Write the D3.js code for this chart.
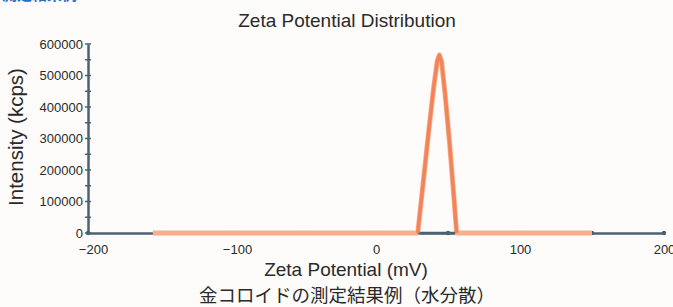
<!doctype html>
<html lang="ja">
<head>
<meta charset="UTF-8">
<title>Zeta Potential Distribution</title>
<style>
  body { margin: 0; background: #fdfcfb; }
  svg { display: block; font-family: "Liberation Sans", Arial, sans-serif; }
</style>
</head>
<body>
<div class="container"></div>
<script src="https://d3js.org/d3.v7.min.js"></script>
<script>
  // data
  const zetaMv = [-155, 29, 33, 37, 40, 42.5, 44, 45.5, 48, 51, 54, 56, 150];
  const intensity = [0, 0, 170000, 340000, 460000, 545000, 565000, 545000, 440000, 290000, 120000, 0, 0];
  const xTicks = [-200, -100, 0, 100, 200];
  const xMinorTicks = [-200, -150, -100, -50, 0, 50, 100, 150, 200];
  const yTicks = [0, 100000, 200000, 300000, 400000, 500000, 600000];
  const yMinorTicks = d3.range(0, 600001, 50000);

  const W = 673, H = 307;
  const M = { left: 88, right: 9, top: 44, bottom: 74 };
  const GW = W - M.left - M.right;
  const GH = H - M.top - M.bottom;

  const svg = d3.select('.container').append('svg')
    .attr('width', W).attr('height', H);

  svg.append('rect').attr('width', W).attr('height', H).attr('fill', '#fdfcfb');

  // heading cut off by the top edge
  svg.append('text').attr('x', 2).attr('y', 0)
    .attr('fill', '#2a6fc4').attr('font-size', 15).attr('font-weight', 'bold')
    .attr('font-family', '"Noto Sans CJK JP", sans-serif')
    .text('測定結果例');

  const g = svg.append('g').attr('transform', `translate(${M.left},${M.top})`);

  const x = d3.scaleLinear().domain([-200, 200]).range([0, GW]);
  const y = d3.scaleLinear().domain([0, 600000]).range([GH, 0]);

  const axisColor = '#4d6270';
  const textColor = '#2a2a2a';

  // x axis
  const xAxis = g.append('g').attr('transform', `translate(0,${GH})`)
    .call(d3.axisBottom(x).tickValues(xTicks).tickSize(0).tickPadding(12)
      .tickFormat(d => String(d).replace('-', '\u2212')));
  xAxis.select('.domain').attr('stroke', axisColor).attr('stroke-width', 2.5);
  xAxis.selectAll('text').attr('font-size', 13).attr('fill', textColor)
    .attr('font-family', '"Liberation Sans", Arial, sans-serif')
    .attr('dx', d => d < 0 ? 5 : 0);

  // y axis
  const yAxis = g.append('g')
    .call(d3.axisLeft(y).tickValues(yTicks).tickSize(0).tickPadding(5).tickFormat(d3.format('d')));
  yAxis.select('.domain').attr('stroke', axisColor).attr('stroke-width', 2.5);
  yAxis.selectAll('text').attr('font-size', 13).attr('fill', textColor)
    .attr('font-family', '"Liberation Sans", Arial, sans-serif');

  // small tick marks
  g.selectAll('.ytick').data(yMinorTicks).enter().append('line')
    .attr('x1', -3).attr('x2', 3)
    .attr('y1', d => y(d)).attr('y2', d => y(d))
    .attr('stroke', axisColor).attr('stroke-width', 1.5);
  g.selectAll('.xtick').data(xMinorTicks).enter().append('circle')
    .attr('cx', d => x(d)).attr('cy', GH).attr('r', 2.2)
    .attr('fill', axisColor);

  // distribution curve: light wide baseline, darker narrower peak
  const line = d3.line().x(d => x(d[0])).y(d => y(d[1]));
  const pts = zetaMv.map((v, i) => [v, intensity[i]]);
  g.append('path').datum(pts)
    .attr('d', line)
    .attr('fill', 'none')
    .attr('stroke', '#f9ad8a')
    .attr('stroke-width', 5)
    .attr('stroke-linejoin', 'round');

  // axis stays visible under the peak
  g.append('line')
    .attr('x1', x(29)).attr('x2', x(55))
    .attr('y1', GH).attr('y2', GH)
    .attr('stroke', axisColor).attr('stroke-width', 2.5);

  const peak = pts.filter(d => d[0] >= 29 && d[0] <= 56);
  g.append('path').datum(peak)
    .attr('d', line)
    .attr('fill', 'none')
    .attr('stroke', '#f3845a')
    .attr('stroke-width', 3.5)
    .attr('stroke-linejoin', 'round');

  // titles
  svg.append('text').attr('x', 347).attr('y', 27)
    .attr('text-anchor', 'middle').attr('font-size', 19).attr('fill', textColor)
    .text('Zeta Potential Distribution');

  svg.append('text').attr('x', 346).attr('y', 276)
    .attr('text-anchor', 'middle').attr('font-size', 19).attr('fill', textColor)
    .text('Zeta Potential (mV)');

  svg.append('text')
    .attr('transform', `translate(23,137) rotate(-90)`)
    .attr('text-anchor', 'middle').attr('font-size', 20.5).attr('fill', textColor)
    .text('Intensity (kcps)');

  svg.append('text').attr('x', 347).attr('y', 302)
    .attr('text-anchor', 'middle').attr('font-size', 18.5).attr('fill', textColor)
    .attr('font-family', '"Noto Sans CJK JP", sans-serif')
    .text('金コロイドの測定結果例（水分散）');
</script>
</body>
</html>
